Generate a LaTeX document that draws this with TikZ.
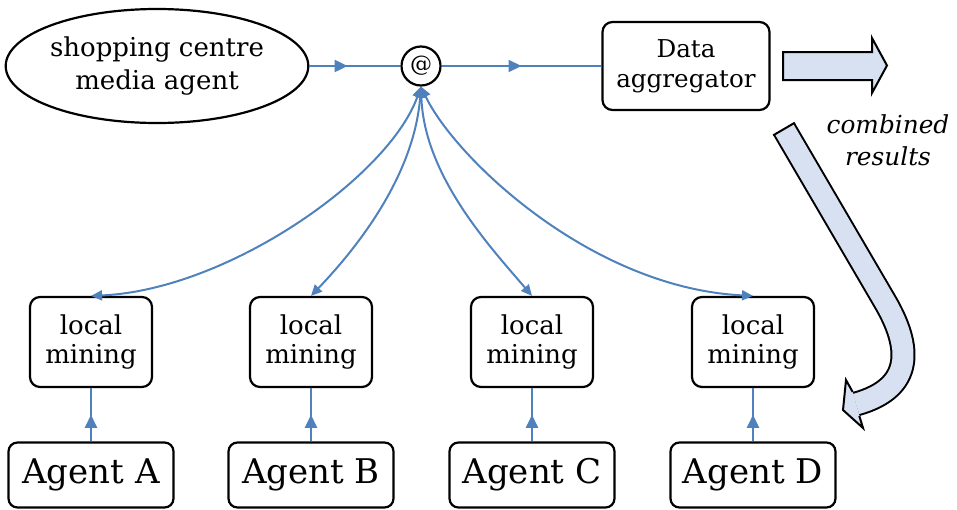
\documentclass[tikz,border=0pt]{standalone}
\usepackage{fontspec}
\setmainfont{DejaVu Serif}
\usetikzlibrary{positioning, shapes.geometric, arrows.meta, decorations.markings}

\definecolor{linkblue}{RGB}{79,129,189}
\definecolor{arrowfill}{RGB}{216,225,241}

\tikzset{
    % nodes
    media-agent/.style={
        ellipse,
        draw,
        line width=1.1pt,
        minimum width=144pt,
        minimum height=57pt,
        inner sep=0pt,
        align=center,
        font=\fontsize{13}{16.5}\selectfont
    },
    hub-node/.style={
        circle,
        draw,
        line width=1.1pt,
        minimum size=19.5pt,
        inner sep=0pt,
        font=\fontsize{11}{12}\selectfont
    },
    aggregator-box/.style={
        rectangle,
        rounded corners=5pt,
        draw,
        line width=1.1pt,
        minimum width=83.5pt,
        minimum height=44pt,
        inner sep=0pt,
        align=center,
        font=\fontsize{12.3}{15}\selectfont
    },
    mining-box/.style={
        rectangle,
        rounded corners=5pt,
        draw,
        line width=1.1pt,
        minimum width=61pt,
        minimum height=45pt,
        inner sep=0pt,
        align=center,
        font=\fontsize{13}{14.5}\selectfont
    },
    agent-box/.style={
        rectangle,
        rounded corners=4.5pt,
        draw,
        line width=1.1pt,
        minimum width=82.5pt,
        minimum height=32.5pt,
        inner sep=0pt,
        font=\fontsize{17}{20}\selectfont
    },
    results-label/.style={
        align=center,
        inner sep=0pt,
        font=\fontsize{12.4}{16}\selectfont\itshape
    },
    % arrows
    link-line/.style={
        line width=1pt,
        color=linkblue
    },
    mid-arrow/.style={
        postaction={decorate},
        decoration={markings, mark=at position #1 with {\arrow{Triangle[length=6.5pt, width=6pt]}}}
    },
    mid-arrow/.default=0.5,
    % block arrows
    block-arrow/.style={
        draw,
        line width=1pt,
        fill=arrowfill,
        line join=miter
    }
}

\begin{document}
\begin{tikzpicture}[x=0.5pt, y=-0.5pt, >={Triangle[length=5.5pt, width=5pt]}]

    \useasboundingbox (0,0) rectangle (957,509);

    % top row
    \node [media-agent] (media) at (157,66) {shopping centre\\media agent};
    \node [hub-node] (hub) at (421,66) {@};
    \node [aggregator-box] (aggregator) at (686,66) {Data\\aggregator};
    \node [results-label] (results) at (888,140) {combined\\results};

    % bottom rows
    \foreach \l/\x [count=\i] in {A/91, B/311, C/532, D/753} {
        \node [mining-box] (mining-\i) at (\x,342) {local\\mining};
        \node [agent-box] (agent-\i) at (\x,475) {Agent \l};
    }

    % draw edges
    \draw [link-line, mid-arrow=0.42] (media.east) -- (hub.west);
    \draw [link-line, mid-arrow=0.5] (hub.east) -- (aggregator.west);
    \foreach \i in {1,...,4}
        \draw [link-line, mid-arrow=0.5] (agent-\i) -- (mining-\i);

    \draw [link-line, <->] (hub.south) .. controls +(-32,90) and +(137,-6) .. (mining-1.north);
    \draw [link-line, <->] (hub.south) .. controls +(-7,90) and +(45,-47) .. (mining-2.north);
    \draw [link-line, <->] (hub.south) .. controls +(3,90) and +(-40,-47) .. (mining-3.north);
    \draw [link-line, <->] (hub.south) .. controls +(33,70) and +(-163,-8) .. (mining-4.north);

    % block arrows
    \draw [block-arrow] (783,52) -- (872,52) -- (872,38) -- (887,65.5) -- (872,93) -- (872,80) -- (783,80) -- cycle;

    \draw [line width=12.5pt] (784,129) -- (884,300) .. controls (912,347) and (914,388) .. (856,404);
    \draw [line width=10.5pt, arrowfill] (784,129) -- (884,300) .. controls (912,347) and (914,388) .. (856,404);
    \draw [line width=1pt] (773.2,135.3) -- (794.8,122.7);
    \fill [arrowfill] (852.7,392) -- (846,380) -- (843,410) -- (863,428) -- (859.3,416) -- cycle;
    \draw [line width=1pt, line join=miter] (852.7,392) -- (846,380) -- (843,410) -- (863,428) -- (859.3,416);

\end{tikzpicture}
\end{document}
